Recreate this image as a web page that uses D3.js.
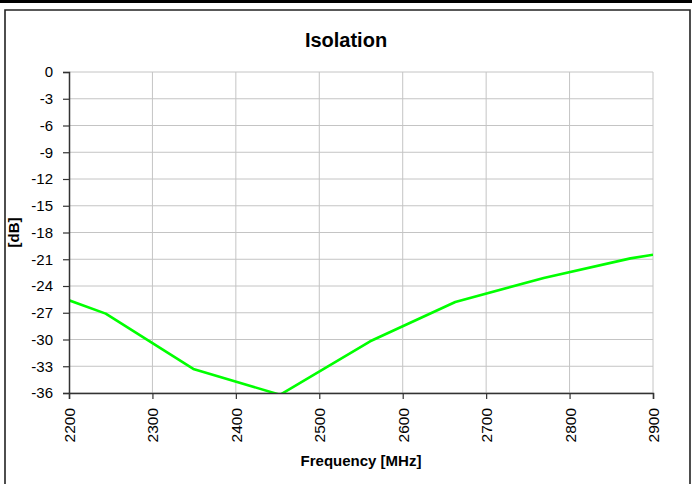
<!DOCTYPE html>
<html>
<head>
<meta charset="utf-8">
<script src="https://cdn.jsdelivr.net/npm/d3@7"></script>
<style>
  html, body { margin: 0; padding: 0; background: #fff; }
  svg { display: block; font-family: Arial, "Liberation Sans", sans-serif; }
</style>
</head>
<body>
<svg id="chart" width="692" height="484"></svg>
<script>
const chartTitle = "Isolation";
const xTitle = "Frequency [MHz]";
const yTitle = "[dB]";
const frequency = [2200, 2244, 2349, 2453, 2561, 2663, 2769, 2873, 2900];
const isolation = [-25.6, -27.1, -33.3, -36.2, -30.2, -25.8, -23.1, -20.9, -20.5];
const xTicks = [2200, 2300, 2400, 2500, 2600, 2700, 2800, 2900];
const yTicks = [0, -3, -6, -9, -12, -15, -18, -21, -24, -27, -30, -33, -36];

const svg = d3.select("#chart");
const W = 692, H = 484;
const m = { left: 69, right: 692 - 653, top: 72, bottom: 484 - 393 };

// page frame
svg.append("rect").attr("x", 0).attr("y", 0).attr("width", W).attr("height", 3).attr("fill", "#000");
svg.append("path")
  .attr("d", `M5,${H + 2} L5,10 L690,10 L690,${H + 2}`)
  .attr("fill", "none").attr("stroke", "#222").attr("stroke-width", 1.6);

const x = d3.scaleLinear().domain([2200, 2900]).range([m.left, W - m.right]);
const y = d3.scaleLinear().domain([-36, 0]).range([H - m.bottom, m.top]);

// grid
svg.append("g").selectAll("line").data(yTicks).join("line")
  .attr("x1", x(2200)).attr("x2", x(2900))
  .attr("y1", d => y(d)).attr("y2", d => y(d))
  .attr("stroke", "#c4c4c4").attr("stroke-width", 1);
svg.append("g").selectAll("line").data(xTicks.slice(1)).join("line")
  .attr("x1", d => x(d)).attr("x2", d => x(d))
  .attr("y1", y(0)).attr("y2", y(-36))
  .attr("stroke", "#c4c4c4").attr("stroke-width", 1);

// clip for the series
svg.append("clipPath").attr("id", "plotclip").append("rect")
  .attr("x", x(2200)).attr("y", y(0)).attr("width", x(2900) - x(2200)).attr("height", y(-36) - y(0));

const line = d3.line().x((d, i) => x(frequency[i])).y(d => y(d));
svg.append("path").datum(isolation)
  .attr("clip-path", "url(#plotclip)")
  .attr("d", line).attr("fill", "none")
  .attr("stroke", "#00ff00").attr("stroke-width", 2.6).attr("stroke-linejoin", "round");

// axes
const yAxis = svg.append("g").attr("transform", `translate(${x(2200)},0)`)
  .call(d3.axisLeft(y).tickValues(yTicks).tickSize(6).tickPadding(10).tickFormat(d => String(d)));
const xAxis = svg.append("g").attr("transform", `translate(0,${y(-36)})`)
  .call(d3.axisBottom(x).tickValues(xTicks).tickSize(6).tickFormat(d => String(d)));
[yAxis, xAxis].forEach(g => {
  g.select(".domain").attr("stroke", "#333").attr("stroke-width", 1.5);
  g.selectAll(".tick line").attr("stroke", "#333").attr("stroke-width", 1.2);
  g.selectAll("text").attr("fill", "#000").style("font-size", "15px").style("font-family", "Arial, 'Liberation Sans', sans-serif");
});
xAxis.selectAll("text")
  .style("font-size", "15.5px")
  .attr("transform", "rotate(-90)")
  .attr("text-anchor", "end")
  .attr("x", -15).attr("y", 0).attr("dy", "0.35em");

// titles
svg.append("text").attr("x", W / 2).attr("y", 47).attr("text-anchor", "middle")
  .style("font-weight", "bold").style("font-size", "20px").text(chartTitle);
svg.append("text").attr("x", (x(2200) + x(2900)) / 2).attr("y", 466).attr("text-anchor", "middle")
  .style("font-weight", "bold").style("font-size", "15px").text(xTitle);
svg.append("text")
  .attr("transform", `translate(19,${(y(0) + y(-36)) / 2}) rotate(-90)`)
  .attr("text-anchor", "middle")
  .style("font-weight", "bold").style("font-size", "15px").text(yTitle);
</script>
</body>
</html>
